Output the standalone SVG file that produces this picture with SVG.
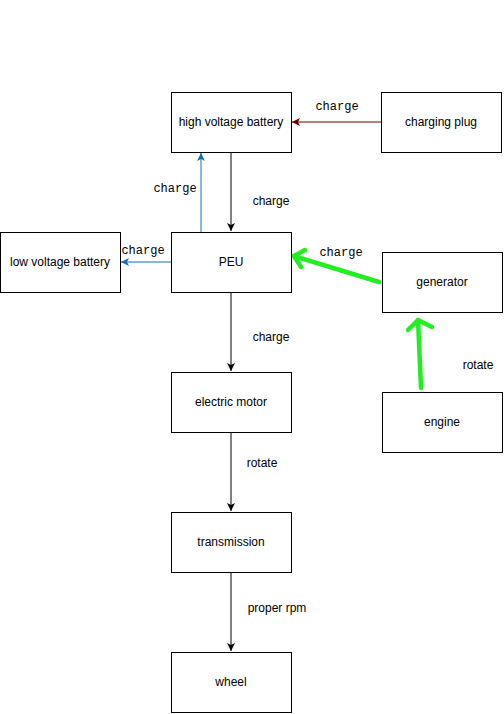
<svg xmlns="http://www.w3.org/2000/svg" width="504" height="714" viewBox="0 0 504 714">
<style>
.box{fill:#ffffff;stroke:#000000;stroke-width:1}
.t{font-family:"Liberation Sans",Arial,sans-serif;font-size:12px;fill:#000000;text-anchor:middle;dominant-baseline:central}
.m{font-family:"Liberation Mono","Courier New",monospace;font-size:12px;fill:#000000;text-anchor:middle;dominant-baseline:central}
.blk{stroke:#000000;stroke-width:1;fill:none}
.blu{stroke:#1570b0;stroke-width:1;fill:none}
.red{stroke:#6b0000;stroke-width:1;fill:none}
.grn{stroke:#22ee22;stroke-width:4.5;fill:none;stroke-linecap:round;stroke-linejoin:round}
</style>
<defs>
<marker id="aBlk" markerWidth="10" markerHeight="10" refX="8" refY="4" orient="auto" markerUnits="userSpaceOnUse"><path d="M0,0 L8,4 L0,8 L2,4 Z" fill="#000000"/></marker>
<marker id="aBlu" markerWidth="10" markerHeight="10" refX="8" refY="4" orient="auto" markerUnits="userSpaceOnUse"><path d="M0,0 L8,4 L0,8 L2,4 Z" fill="#1570b0"/></marker>
<marker id="aRed" markerWidth="10" markerHeight="10" refX="8" refY="4" orient="auto" markerUnits="userSpaceOnUse"><path d="M0,0 L8,4 L0,8 L2,4 Z" fill="#6b0000"/></marker>
</defs>
<rect width="504" height="714" fill="#ffffff"/>
<g id="connectors">
<line class="red" x1="381" y1="122" x2="292" y2="122" marker-end="url(#aRed)"/>
<line class="blk" x1="231" y1="152" x2="231" y2="231" marker-end="url(#aBlk)"/>
<line class="blu" x1="201" y1="232" x2="201" y2="153" marker-end="url(#aBlu)"/>
<line class="blu" x1="171" y1="262" x2="121" y2="262" marker-end="url(#aBlu)"/>
<line class="blk" x1="231" y1="292" x2="231" y2="371" marker-end="url(#aBlk)"/>
<line class="blk" x1="231" y1="432" x2="231" y2="511" marker-end="url(#aBlk)"/>
<line class="blk" x1="231" y1="572" x2="231" y2="651" marker-end="url(#aBlk)"/>
<path class="grn" d="M379,282 L294,256"/>
<path class="grn" d="M305,250 L294,256 L301,267"/>
<path class="grn" d="M421,388 L418,320"/>
<path class="grn" d="M408,330 L418,320 L432,327"/>
<text class="m" x="337" y="107">charge</text>
<text class="t" x="271" y="201">charge</text>
<text class="m" x="175" y="189">charge</text>
<text class="m" x="143" y="251">charge</text>
<text class="m" x="341" y="253">charge</text>
<text class="t" x="478" y="365">rotate</text>
<text class="t" x="271" y="337">charge</text>
<text class="t" x="262" y="463">rotate</text>
<text class="t" x="277" y="608">proper rpm</text>
</g>
<g id="hvb"><rect class="box" x="171.5" y="92.5" width="120" height="60"/><text class="t" x="231" y="122">high voltage battery</text></g>
<g id="plug"><rect class="box" x="381.5" y="92.5" width="120" height="60"/><text class="t" x="441" y="122">charging plug</text></g>
<g id="lvb"><rect class="box" x="0.5" y="232.5" width="120" height="60"/><text class="t" x="60" y="262">low voltage battery</text></g>
<g id="peu"><rect class="box" x="171.5" y="232.5" width="120" height="60"/><text class="t" x="231" y="262">PEU</text></g>
<g id="generator"><rect class="box" x="382.5" y="252.5" width="120" height="60"/><text class="t" x="442" y="282">generator</text></g>
<g id="engine"><rect class="box" x="382.5" y="392.5" width="120" height="60"/><text class="t" x="442" y="422">engine</text></g>
<g id="motor"><rect class="box" x="171.5" y="372.5" width="120" height="60"/><text class="t" x="231" y="402">electric motor</text></g>
<g id="transmission"><rect class="box" x="171.5" y="512.5" width="120" height="60"/><text class="t" x="231" y="542">transmission</text></g>
<g id="wheel"><rect class="box" x="171.5" y="652.5" width="120" height="60"/><text class="t" x="231" y="682">wheel</text></g>
</svg>
